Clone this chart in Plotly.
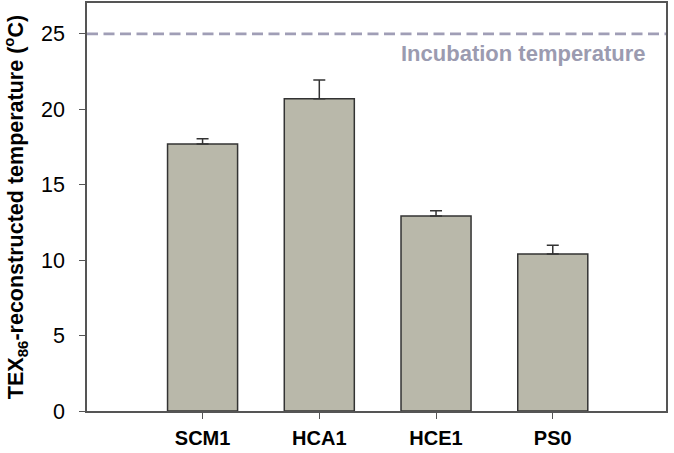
import plotly.graph_objects as go

categories = ["SCM1", "HCA1", "HCE1", "PS0"]
values = [17.7, 20.7, 12.93, 10.41]
errors = [0.35, 1.24, 0.35, 0.58]
incubation_temp = 25
y_ticks = [0, 5, 10, 15, 20, 25]

fig = go.Figure()
fig.add_trace(go.Bar(
    x=list(range(len(categories))), y=values,
    width=0.6,
    marker=dict(color="#b9b8aa", line=dict(color="#333333", width=1.5)),
    error_y=dict(type="data", array=errors, arrayminus=[0]*len(errors), symmetric=False,
                 color="#333333", thickness=1.5, width=6),
))
fig.add_shape(type="line", xref="paper", x0=0, x1=1, yref="y", y0=incubation_temp, y1=incubation_temp,
              line=dict(color="#a09eb6", width=2.8, dash="11px,5.5px"))
fig.add_annotation(text="<b>Incubation temperature</b>", xref="paper", x=0.968, xanchor="right",
                   yref="y", y=incubation_temp, yshift=-20, showarrow=False,
                   font=dict(family="Liberation Sans, Arial", size=22, color="#9b9bb0"))

fig.update_layout(
    width=674, height=453,
    margin=dict(l=87, r=8, t=3, b=42),
    plot_bgcolor="white", paper_bgcolor="white",
    showlegend=False,
    font=dict(family="Liberation Sans, Arial", color="black"),
)
fig.update_xaxes(
    range=[-0.99, 3.97], tickmode="array", tickvals=list(range(len(categories))),
    ticktext=["<b>%s</b>" % c for c in categories],
    tickfont=dict(size=20), ticks="outside", ticklen=6, tickcolor="#555555",
    showline=True, linecolor="#555555", linewidth=1.5, mirror=True, showgrid=False,
    ticklabelstandoff=2, automargin=False,
)
fig.update_yaxes(
    range=[0, 27.05], tickvals=y_ticks, tickfont=dict(size=21.5),
    ticks="outside", ticklen=6, tickcolor="#555555",
    showline=True, linecolor="#555555", linewidth=1.5, mirror=True, showgrid=False, zeroline=False,
    ticklabelstandoff=10, automargin=False,
    title=dict(text="<b>TEX<sub>86</sub>-reconstructed temperature (<sup>o</sup>C)</b>",
               font=dict(size=21.5), standoff=12),
)
fig.write_html("out.html", config={"displayModeBar": False},
               post_script="document.body.style.margin='0';")
